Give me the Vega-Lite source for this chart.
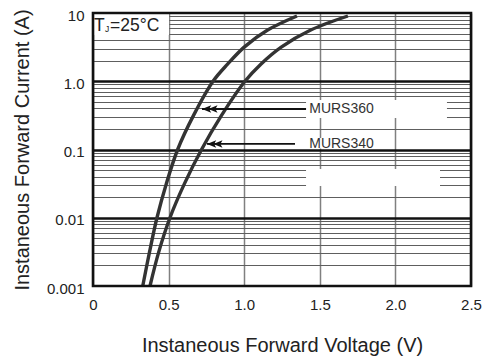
{
  "$schema": "https://vega.github.io/schema/vega-lite/v6.json",
  "width": 378,
  "height": 273,
  "autosize": {"type": "none"},
  "padding": {"left": 93, "top": 13, "right": 12, "bottom": 72},
  "background": "white",
  "config": {
    "view": {"stroke": null},
    "font": "Liberation Sans",
    "text": {"font": "Liberation Sans"}
  },
  "datasets": {
    "curves": [
      {"series": "MURS360", "V": 0.329, "I": 0.001},
      {"series": "MURS360", "V": 0.374, "I": 0.00316},
      {"series": "MURS360", "V": 0.423, "I": 0.01},
      {"series": "MURS360", "V": 0.485, "I": 0.0316},
      {"series": "MURS360", "V": 0.56, "I": 0.1},
      {"series": "MURS360", "V": 0.665, "I": 0.316},
      {"series": "MURS360", "V": 0.794, "I": 1},
      {"series": "MURS360", "V": 0.89, "I": 1.778},
      {"series": "MURS360", "V": 1.0, "I": 3.162},
      {"series": "MURS360", "V": 1.155, "I": 5.623},
      {"series": "MURS360", "V": 1.349, "I": 9.04},
      {"series": "MURS340", "V": 0.377, "I": 0.001},
      {"series": "MURS340", "V": 0.435, "I": 0.00316},
      {"series": "MURS340", "V": 0.509, "I": 0.01},
      {"series": "MURS340", "V": 0.605, "I": 0.0316},
      {"series": "MURS340", "V": 0.718, "I": 0.1},
      {"series": "MURS340", "V": 0.85, "I": 0.316},
      {"series": "MURS340", "V": 1.005, "I": 1},
      {"series": "MURS340", "V": 1.11, "I": 1.778},
      {"series": "MURS340", "V": 1.245, "I": 3.162},
      {"series": "MURS340", "V": 1.44, "I": 5.623},
      {"series": "MURS340", "V": 1.686, "I": 9.04}
    ],
    "boxes": [
      {"x1": 1.409, "x2": 2.341, "y1": 0.29, "y2": 0.531},
      {"x1": 1.409, "x2": 1.885, "y1": 0.103, "y2": 0.147},
      {"x1": 1.409, "x2": 2.295, "y1": 0.0292, "y2": 0.0518},
      {"x1": 0, "x2": 0.503, "y1": 4.76, "y2": 10}
    ],
    "arrows": [
      {"series": "MURS360", "V0": 0.721, "V1": 1.409, "I": 0.392},
      {"series": "MURS340", "V0": 0.754, "V1": 1.336, "I": 0.1205}
    ],
    "labels": [
      {"text": "MURS360", "V": 1.43, "I": 0.392},
      {"text": "MURS340", "V": 1.43, "I": 0.1205}
    ]
  },
  "layer": [
    {
      "data": {"name": "boxes"},
      "mark": {"type": "rect", "fill": "white", "stroke": null},
      "encoding": {
        "x": {
          "field": "x1", "type": "quantitative",
          "scale": {"domain": [0, 2.5], "nice": false, "zero": false},
          "title": "Instaneous Forward Voltage (V)",
          "axis": {
            "values": [0, 0.25, 0.5, 0.75, 1, 1.25, 1.5, 1.75, 2, 2.25, 2.5],
            "labelExpr": "datum.value == 0 ? '0' : ((datum.value * 2) % 1 == 0 ? format(datum.value, '.1f') : '')",
            "domain": false,
            "ticks": false,
            "tickSize": 0,
            "labelPadding": 11,
            "labelFontSize": 15,
            "labelColor": "#222",
            "labelFlush": false,
            "labelOverlap": false,
            "titleFontSize": 20,
            "titleFontWeight": "normal",
            "titleColor": "#222",
            "titlePadding": 23,
            "grid": true,
            "gridColor": "#808080",
            "gridWidth": 1.5
          }
        },
        "x2": {"field": "x2"},
        "y": {
          "field": "y1", "type": "quantitative",
          "scale": {"type": "log", "domain": [0.001, 10], "nice": false},
          "title": "Instaneous Forward Current (A)",
          "axis": {
            "values": [0.001, 0.002, 0.003, 0.004, 0.005, 0.006, 0.007, 0.008, 0.009,
                       0.01, 0.02, 0.03, 0.04, 0.05, 0.06, 0.07, 0.08, 0.09,
                       0.1, 0.2, 0.3, 0.4, 0.5, 0.6, 0.7, 0.8, 0.9,
                       1, 2, 3, 4, 5, 6, 7, 8, 9, 10],
            "labelExpr": "datum.value == 10 ? '10' : datum.value == 1 ? '1.0' : datum.value == 0.1 ? '0.1' : datum.value == 0.01 ? '0.01' : datum.value == 0.001 ? '0.001' : ''",
            "domain": false,
            "ticks": false,
            "tickSize": 0,
            "labelPadding": 9,
            "labelFontSize": 15,
            "labelColor": "#222",
            "labelOffset": 2,
            "labelOverlap": false,
            "labelFlush": false,
            "titleFontSize": 20,
            "titleFontWeight": "normal",
            "titleColor": "#222",
            "titlePadding": 14,
            "grid": true,
            "gridColor": {"condition": {"test": "datum.value == 0.01 || datum.value == 0.1 || datum.value == 1", "value": "#111111"}, "value": "#5e5e5e"},
            "gridWidth": {"condition": {"test": "datum.value == 0.01 || datum.value == 0.1 || datum.value == 1", "value": 2.3}, "value": 1.2}
          }
        },
        "y2": {"field": "y2"}
      }
    },
    {
      "data": {"name": "curves"},
      "mark": {"type": "line", "interpolate": "catmull-rom", "color": "#333333", "strokeWidth": 3.4},
      "encoding": {
        "x": {"field": "V", "type": "quantitative", "title": "Instaneous Forward Voltage (V)"},
        "y": {"field": "I", "type": "quantitative", "title": "Instaneous Forward Current (A)"},
        "detail": {"field": "series"}
      }
    },
    {
      "data": {"name": "arrows"},
      "mark": {"type": "rule", "color": "#111111", "strokeWidth": 1.8},
      "encoding": {
        "x": {"field": "V0", "type": "quantitative", "title": "Instaneous Forward Voltage (V)"},
        "x2": {"field": "V1"},
        "y": {"field": "I", "type": "quantitative", "title": "Instaneous Forward Current (A)"}
      }
    },
    {
      "data": {"name": "arrows"},
      "mark": {
        "type": "point",
        "shape": "M0,0 L1.1,-0.45 L0.85,0 L1.1,0.45 Z M0.75,0 L1.85,-0.45 L1.6,0 L1.85,0.45 Z",
        "size": 280,
        "filled": true,
        "color": "#111111",
        "opacity": 1,
        "strokeWidth": 0
      },
      "encoding": {
        "x": {"field": "V0", "type": "quantitative", "title": "Instaneous Forward Voltage (V)"},
        "y": {"field": "I", "type": "quantitative", "title": "Instaneous Forward Current (A)"}
      }
    },
    {
      "data": {"name": "labels"},
      "mark": {"type": "text", "align": "left", "baseline": "middle", "fontSize": 14, "color": "#333333"},
      "encoding": {
        "x": {"field": "V", "type": "quantitative", "title": "Instaneous Forward Voltage (V)"},
        "y": {"field": "I", "type": "quantitative", "title": "Instaneous Forward Current (A)"},
        "text": {"field": "text"}
      }
    },
    {
      "data": {"values": [{}]},
      "mark": {"type": "text", "text": "T", "align": "left", "baseline": "alphabetic", "fontSize": 17.5, "color": "#222", "dx": 1},
      "encoding": {
        "x": {"datum": 0, "type": "quantitative", "title": "Instaneous Forward Voltage (V)"},
        "y": {"datum": 5.45, "type": "quantitative", "title": "Instaneous Forward Current (A)"}
      }
    },
    {
      "data": {"values": [{}]},
      "mark": {"type": "text", "text": "J", "align": "left", "baseline": "alphabetic", "fontSize": 8.5, "color": "#222", "dx": 12, "dy": 1.5},
      "encoding": {
        "x": {"datum": 0, "type": "quantitative", "title": "Instaneous Forward Voltage (V)"},
        "y": {"datum": 5.45, "type": "quantitative", "title": "Instaneous Forward Current (A)"}
      }
    },
    {
      "data": {"values": [{}]},
      "mark": {"type": "text", "text": "=25°C", "align": "left", "baseline": "alphabetic", "fontSize": 17.5, "color": "#222", "dx": 17},
      "encoding": {
        "x": {"datum": 0, "type": "quantitative", "title": "Instaneous Forward Voltage (V)"},
        "y": {"datum": 5.45, "type": "quantitative", "title": "Instaneous Forward Current (A)"}
      }
    },
    {
      "data": {"values": [{}]},
      "mark": {"type": "rect", "fill": null, "fillOpacity": 0, "stroke": "#111111", "strokeWidth": 2.6},
      "encoding": {
        "x": {"datum": 0, "type": "quantitative", "title": "Instaneous Forward Voltage (V)"},
        "x2": {"datum": 2.5},
        "y": {"datum": 0.001, "type": "quantitative", "title": "Instaneous Forward Current (A)"},
        "y2": {"datum": 10}
      }
    }
  ]
}
